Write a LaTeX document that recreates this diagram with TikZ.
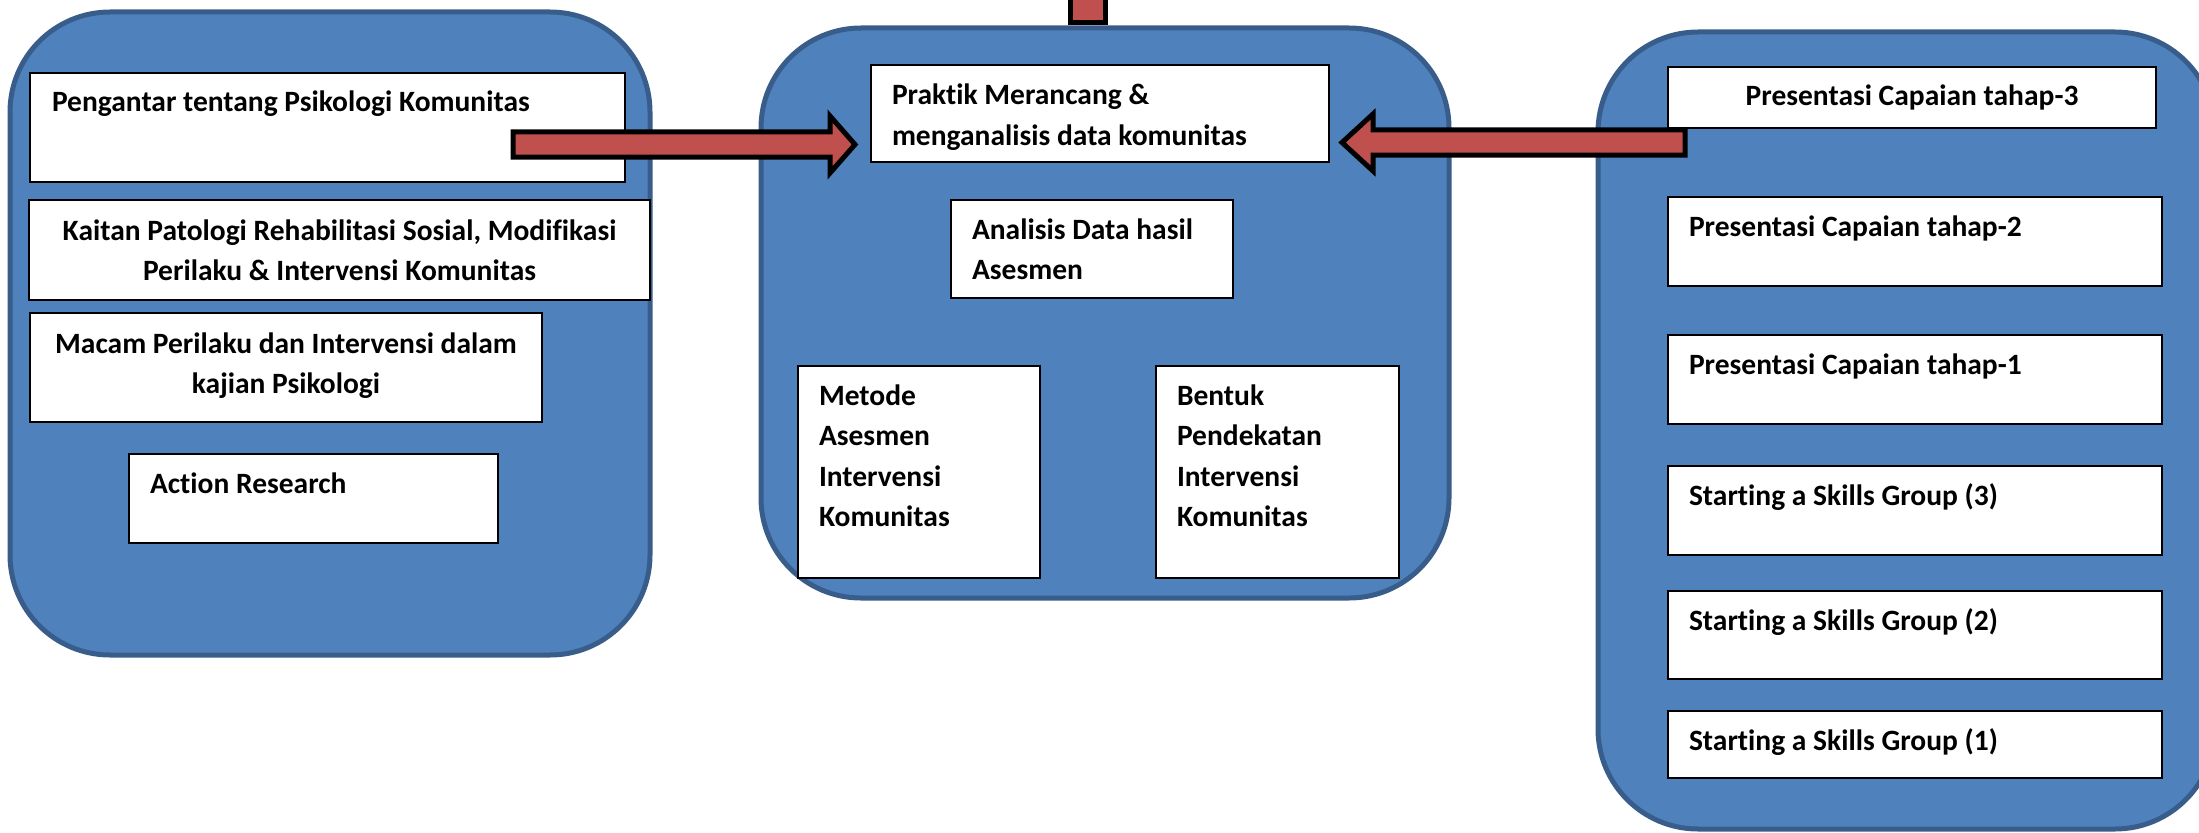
\documentclass[tikz,border=0pt]{standalone}
\usepackage{fontspec}
\setmainfont{Carlito}[Ligatures=NoCommon]
\definecolor{panelfill}{HTML}{4F81BD}
\definecolor{panelline}{HTML}{385D8A}
\definecolor{arrowred}{HTML}{C0504D}
\begin{document}
\begin{tikzpicture}[x=1pt,y=-1pt,
  panel/.style={draw=panelline, line width=5pt, fill=panelfill, rounded corners=100pt, inner sep=0pt, outer sep=0pt, anchor=north west},
  box/.style={draw=black, line width=2.5pt, fill=white, inner sep=0pt, outer sep=0pt, anchor=north west},
  lbl/.style={inner sep=0pt, outer sep=0pt, anchor=base west, font=\bfseries\fontsize{29.5}{40.5}\selectfont},
  blockarrow/.style={draw=black, line width=5pt, fill=arrowred, line join=miter}]
\useasboundingbox (0,0) rectangle (2199,832);
% panels
\node[panel, minimum width=640pt, minimum height=643pt] (left) at (10,12) {};
\node[panel, minimum width=688pt, minimum height=570pt] (mid) at (761,28) {};
\node[panel, minimum width=617pt, minimum height=797pt] (right) at (1598,32) {};
% left boxes
\node[box, minimum width=595pt, minimum height=109pt] (peng) at (30,73) {};
\node[box, minimum width=621pt, minimum height=100pt] (kait) at (29,200) {};
\node[box, minimum width=512pt, minimum height=109pt] (macam) at (30,313) {};
\node[box, minimum width=369pt, minimum height=89pt] (action) at (129,454) {};
% middle boxes
\node[box, minimum width=458pt, minimum height=97pt] (prak) at (871,65) {};
\node[box, minimum width=282pt, minimum height=98pt] (anal) at (951,200) {};
\node[box, minimum width=242pt, minimum height=212pt] (metode) at (798,366) {};
\node[box, minimum width=243pt, minimum height=212pt] (bentuk) at (1156,366) {};
% right boxes
\node[box, minimum width=488pt, minimum height=61pt] (p3) at (1668,67) {};
\node[box, minimum width=494pt, minimum height=89pt] (p2) at (1668,197) {};
\node[box, minimum width=494pt, minimum height=89pt] (p1) at (1668,335) {};
\node[box, minimum width=494pt, minimum height=89pt] (s3) at (1668,466) {};
\node[box, minimum width=494pt, minimum height=88pt] (s2) at (1668,591) {};
\node[box, minimum width=494pt, minimum height=67pt] (s1) at (1668,711) {};
% labels
\node[lbl] (tpeng) at (52,112) {Pengantar tentang Psikologi Komunitas};
\node[lbl] (tkait) at (29,240) {\parbox[t]{621pt}{\centering Kaitan Patologi Rehabilitasi Sosial, Modifikasi\\Perilaku \& Intervensi Komunitas}};
\node[lbl] (tmacam) at (30,353) {\parbox[t]{512pt}{\centering Macam Perilaku dan Intervensi dalam\\kajian Psikologi}};
\node[lbl] (taction) at (150,493) {Action Research};
\node[lbl] (tprak) at (892,105) {\parbox[t]{430pt}{\raggedright Praktik Merancang \&\\menganalisis data komunitas}};
\node[lbl] (tanal) at (972,239) {\parbox[t]{260pt}{\raggedright Analisis Data hasil\\Asesmen}};
\node[lbl] (tmet) at (819,405) {\parbox[t]{220pt}{\raggedright Metode\\Asesmen\\Intervensi\\Komunitas}};
\node[lbl] (tben) at (1177,405) {\parbox[t]{220pt}{\raggedright Bentuk\\Pendekatan\\Intervensi\\Komunitas}};
\node[lbl] (tp3) at (1668,106) {\parbox[t]{488pt}{\centering Presentasi Capaian tahap-3}};
\node[lbl] (tp2) at (1689,236) {Presentasi Capaian tahap-2};
\node[lbl] (tp1) at (1689,374) {Presentasi Capaian tahap-1};
\node[lbl] (ts3) at (1689,505) {Starting a Skills Group (3)};
\node[lbl] (ts2) at (1689,630) {Starting a Skills Group (2)};
\node[lbl] (ts1) at (1689,750) {Starting a Skills Group (1)};
% block arrows
\draw[blockarrow] (513,132) -- (830,132) -- (830,116) -- (855,144.5) -- (830,173) -- (830,157) -- (513,157) -- cycle;
\draw[blockarrow] (1685,130) -- (1373,130) -- (1373,114) -- (1342,142.5) -- (1373,171) -- (1373,155) -- (1685,155) -- cycle;
\draw[blockarrow] (1070.5,-10) rectangle (1105.5,22.5);
\end{tikzpicture}
\end{document}
